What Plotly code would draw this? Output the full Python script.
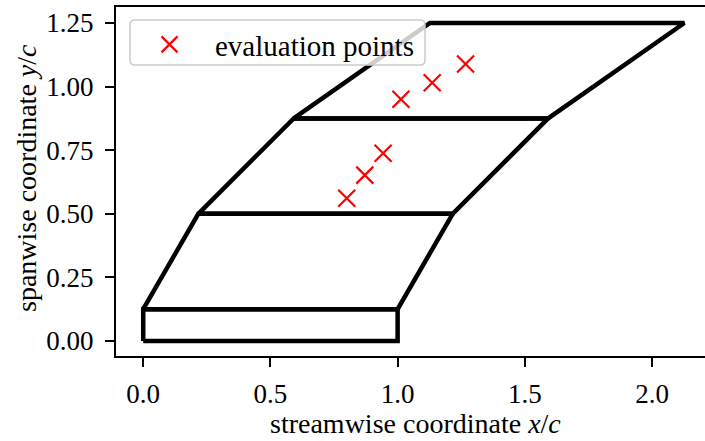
import plotly.graph_objects as go

# wing geometry (section stations)
section_y = [0.0, 0.125, 0.5, 0.875, 1.25]
leading_edge_x = [0.0, 0.0, 0.2165, 0.5915, 1.127]
chord = [1.0, 1.0, 1.0, 1.0, 1.0]

# evaluation points
eval_x = [0.800, 0.871, 0.943, 1.013, 1.136, 1.267]
eval_y = [0.561, 0.652, 0.738, 0.950, 1.015, 1.089]

x_ticks = [0.0, 0.5, 1.0, 1.5, 2.0]
y_ticks = [0.0, 0.25, 0.5, 0.75, 1.0, 1.25]

W, H = 705, 441
ML, MR, MT, MB = 116, 0, 7, 85
pw = W - ML - MR
ph = H - MT - MB
scale = 254.4
x0 = -0.107
y0 = -0.059
x_range = [x0, x0 + pw / scale]
y_range = [y0, y0 + ph / scale]

FONT = "'Liberation Serif', 'Times New Roman', 'DejaVu Serif', serif"

fig = go.Figure()

for i in range(len(section_y) - 1):
    xs = [leading_edge_x[i], leading_edge_x[i] + chord[i],
          leading_edge_x[i + 1] + chord[i + 1], leading_edge_x[i + 1],
          leading_edge_x[i]]
    ys = [section_y[i], section_y[i], section_y[i + 1], section_y[i + 1],
          section_y[i]]
    fig.add_trace(go.Scatter(x=xs, y=ys, mode="lines",
                             line=dict(color="black", width=4.5),
                             showlegend=False, hoverinfo="skip"))

fig.add_trace(go.Scatter(x=eval_x, y=eval_y, mode="markers",
                         name="evaluation points",
                         marker=dict(symbol="x-thin", size=17, color="red",
                                     line=dict(color="red", width=2.2))))

def px2paper(px, py):
    return (px - ML) / pw, (H - MB - py) / ph

# rounded legend frame
bx0, by0 = px2paper(130, 65)
bx1, by1 = px2paper(425, 20)
rx, ry = 5 / pw, 5 / ph
path = (f"M {bx0+rx} {by0} L {bx1-rx} {by0} Q {bx1} {by0} {bx1} {by0+ry} "
        f"L {bx1} {by1-ry} Q {bx1} {by1} {bx1-rx} {by1} "
        f"L {bx0+rx} {by1} Q {bx0} {by1} {bx0} {by1-ry} "
        f"L {bx0} {by0+ry} Q {bx0} {by0} {bx0+rx} {by0} Z")
fig.add_shape(type="path", path=path, xref="paper", yref="paper",
              fillcolor="rgba(255,255,255,0.8)",
              line=dict(color="#cccccc", width=1.5), layer="above")

lx, ly = px2paper(124, 19)

fig.update_layout(
    width=W, height=H,
    margin=dict(l=ML, r=MR, t=MT, b=MB, pad=0),
    plot_bgcolor="white", paper_bgcolor="white",
    font=dict(family=FONT, size=27, color="black"),
    showlegend=True,
    legend=dict(x=lx, y=ly, xanchor="left", yanchor="top",
                bgcolor="rgba(0,0,0,0)", borderwidth=0,
                font=dict(family=FONT, size=29), itemwidth=81),
    xaxis=dict(range=x_range, tickvals=x_ticks, tickformat=".1f",
               showgrid=False, zeroline=False, showline=True,
               linecolor="black", linewidth=2, mirror=True,
               ticks="outside", ticklen=9, tickwidth=1.6, tickcolor="black",
               ticklabelstandoff=4),
    yaxis=dict(range=y_range, tickvals=y_ticks, tickformat=".2f",
               showgrid=False, zeroline=False, showline=True,
               linecolor="black", linewidth=2, mirror=False,
               ticks="outside", ticklen=9, tickwidth=1.6, tickcolor="black",
               ticklabelstandoff=6),
    annotations=[
        dict(text="streamwise coordinate <i>x</i>/<i>c</i>", xref="paper",
             yref="paper", x=(415 - ML) / pw, y=(H - MB - 423) / ph,
             xanchor="center", yanchor="middle", showarrow=False,
             font=dict(family=FONT, size=28)),
        dict(text="spanwise coordinate <i>y</i>/<i>c</i>", xref="paper",
             yref="paper", x=(26 - ML) / pw, y=(H - MB - 178) / ph,
             xanchor="center", yanchor="middle", showarrow=False,
             textangle=-90, font=dict(family=FONT, size=28)),
    ],
)

fig.write_html("out.html")
